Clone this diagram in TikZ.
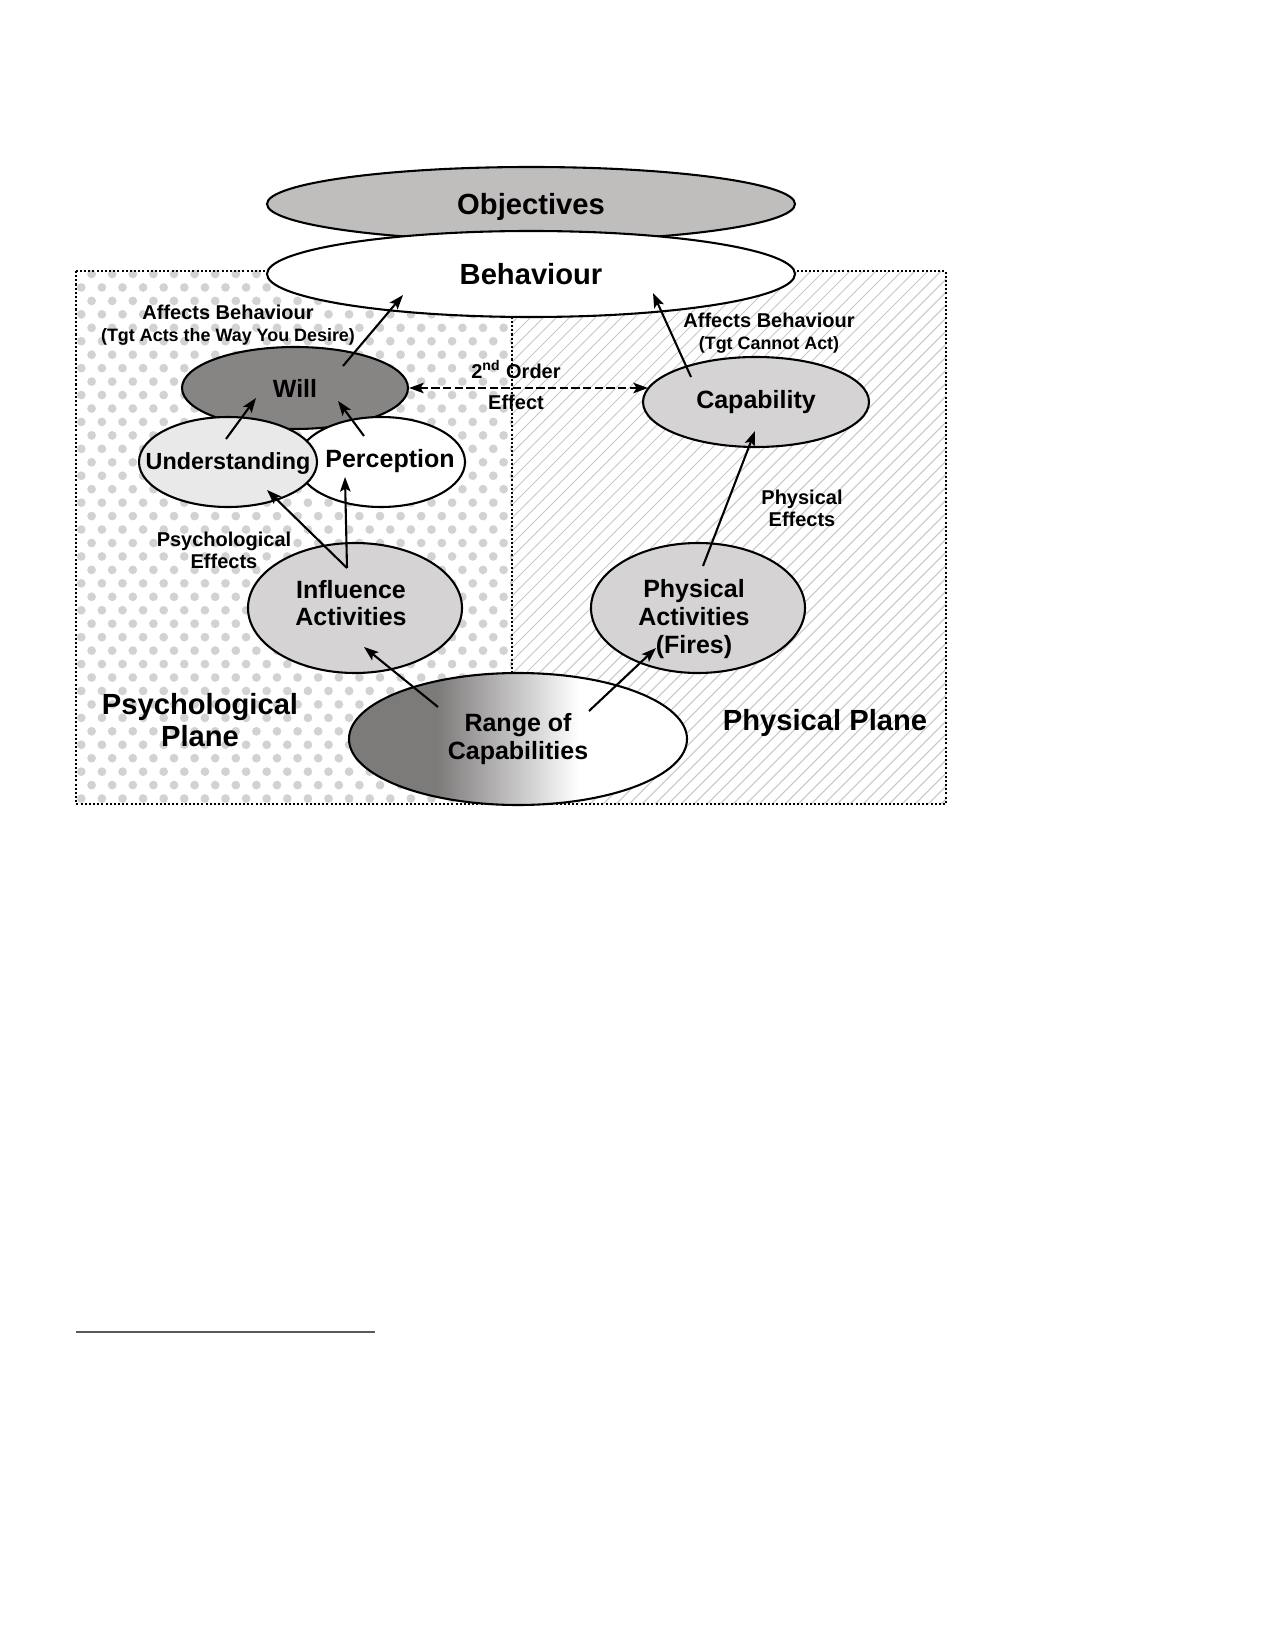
\documentclass[tikz,border=0pt]{standalone}
\usepackage{fontspec}
\setmainfont{Liberation Sans}
\usetikzlibrary{shapes.geometric,arrows.meta}
\definecolor{objgray}{RGB}{192,189,189}
\definecolor{willgray}{RGB}{135,132,132}
\definecolor{undgray}{RGB}{233,233,233}
\definecolor{capgray}{RGB}{213,211,211}
\definecolor{rangegray}{RGB}{125,122,122}
\definecolor{dotgray}{RGB}{210,210,210}
\definecolor{hatchgray}{RGB}{198,198,198}
\pgfdeclarehorizontalshading{rangeshade}{100bp}{color(0bp)=(rangegray); color(38bp)=(rangegray); color(59bp)=(white); color(100bp)=(white)}
\tikzset{
  oval/.style 2 args={draw, ellipse, line width=1pt, inner sep=0pt, minimum width=#1*0.96pt, minimum height=#2*0.96pt, align=center, font=\fontsize{12}{13.3}\selectfont\bfseries},
  ovaltext/.style={align=center, font=\fontsize{12}{13.3}\selectfont\bfseries},
  lbl/.style={align=center, font=\fontsize{9.6}{10.5}\selectfont\bfseries},
  plane/.style={align=center, font=\fontsize{14}{15.4}\selectfont\bfseries},
  bigtext/.style={font=\fontsize{14}{16}\selectfont\bfseries, text depth=0pt}
}
\begin{document}
\begin{tikzpicture}[x=0.48pt,y=-0.48pt,>={Stealth[length=7pt,width=5pt,inset=1.5pt]}]
\useasboundingbox (0,0) rectangle (1275,1650);
\draw[line width=0.9pt, black!65] (76,1332) -- (375,1332);
% psychological plane: dots
\begin{scope}
\clip (76,271) rectangle (512,804);
\foreach \r in {0,...,40}
  \foreach \c in {0,...,22}
    \fill[dotgray] ({71+\c*20.6+mod(\r,2)*10.3},{274+\r*13.45}) circle[radius=2.1pt];
\end{scope}
% physical plane: hatching
\begin{scope}
\clip (512,271) rectangle (946,804);
\foreach \i in {0,...,75}
  \draw[hatchgray, line width=0.5pt] ({-21+\i*13},804) -- ++(533,-533);
\end{scope}
\draw[densely dotted, line width=1pt] (76,271) rectangle (946,804);
\draw[densely dotted, line width=1pt] (512,271) -- (512,804);
% ovals
\node (obj) [oval={264}{37}, fill=objgray, bigtext] at (531,204) {Objectives};
\node (beh) [oval={264}{43}, fill=white, bigtext] at (531,274) {Behaviour};
\node (will) [oval={113}{41}, fill=willgray] at (295,388) {Will};
\node (perc) [oval={84}{45}, fill=white] at (381,462) {};
\node (und) [oval={89}{45}, fill=undgray] at (228,462) {};
\node (perctxt) [ovaltext] at (390,461) {Perception};
\node (undtxt) [ovaltext, font=\fontsize{11.2}{13}\selectfont\bfseries] at (228,464) {Understanding};
\node (cap) [oval={113}{45}, fill=capgray] at (756,402) {Capability};
\node (infl) [oval={107}{65}, fill=capgray] at (355,608) {};
\node (phys) [oval={107}{65}, fill=capgray] at (698,608) {};
\node (range) [oval={169}{66}, shade, shading=rangeshade] at (518,739) {Range of\\Capabilities};
\node (infltxt) [ovaltext] at (351,603) {Influence\\Activities};
\node (phystxt) [ovaltext] at (694,619) {Physical\\Activities\\(Fires)};
% labels
\node (affl) [lbl] at (228,325) {Affects Behaviour\\{\fontsize{8.6}{10.5}\selectfont (Tgt Acts the Way You Desire)}};
\node (affr) [lbl] at (769,333) {Affects Behaviour\\{\fontsize{8.6}{10.5}\selectfont (Tgt Cannot Act)}};
\node (ord) [lbl, font=\fontsize{9.6}{15}\selectfont\bfseries] at (516,385) {2\textsuperscript{nd} Order\\Effect};
\node (psyeff) [lbl] at (224,550) {Psychological\\Effects};
\node (phyeff) [lbl] at (802,508) {Physical\\Effects};
\node (psyplane) [plane] at (200,720) {Psychological\\Plane};
\node (phyplane) [plane] at (825,723) {Physical Plane};
% arrows
\draw[->, line width=1pt] ([shift={(48,-22)}]will.center) -- ([shift={(-128,21)}]beh.center);
\draw[->, line width=1pt] ([shift={(-2,-23)}]und.center) -- ([shift={(-39,10)}]will.center);
\draw[->, line width=1pt] ([shift={(-17,-26)}]perc.center) -- ([shift={(43,13)}]will.center);
\draw[->, line width=1pt] ([shift={(-8,-40)}]infl.center) -- ([shift={(39,28)}]und.center);
\draw[->, line width=1pt] ([shift={(-8,-40)}]infl.center) -- ([shift={(-36,15)}]perc.center);
\draw[->, line width=1pt] ([shift={(-80,-32)}]range.center) -- ([shift={(9,39)}]infl.center);
\draw[->, line width=1pt] ([shift={(71,-28)}]range.center) -- ([shift={(-42,40)}]phys.center);
\draw[->, line width=1pt] ([shift={(5,-42)}]phys.center) -- ([shift={(-1,29)}]cap.center);
\draw[->, line width=1pt] ([shift={(-65,-25)}]cap.center) -- ([shift={(122,19)}]beh.center);
\draw[<->, line width=1pt, dash pattern=on 4pt off 1.6pt] (will.east) -- ([shift={(-108,-14)}]cap.center);
\end{tikzpicture}
\end{document}
